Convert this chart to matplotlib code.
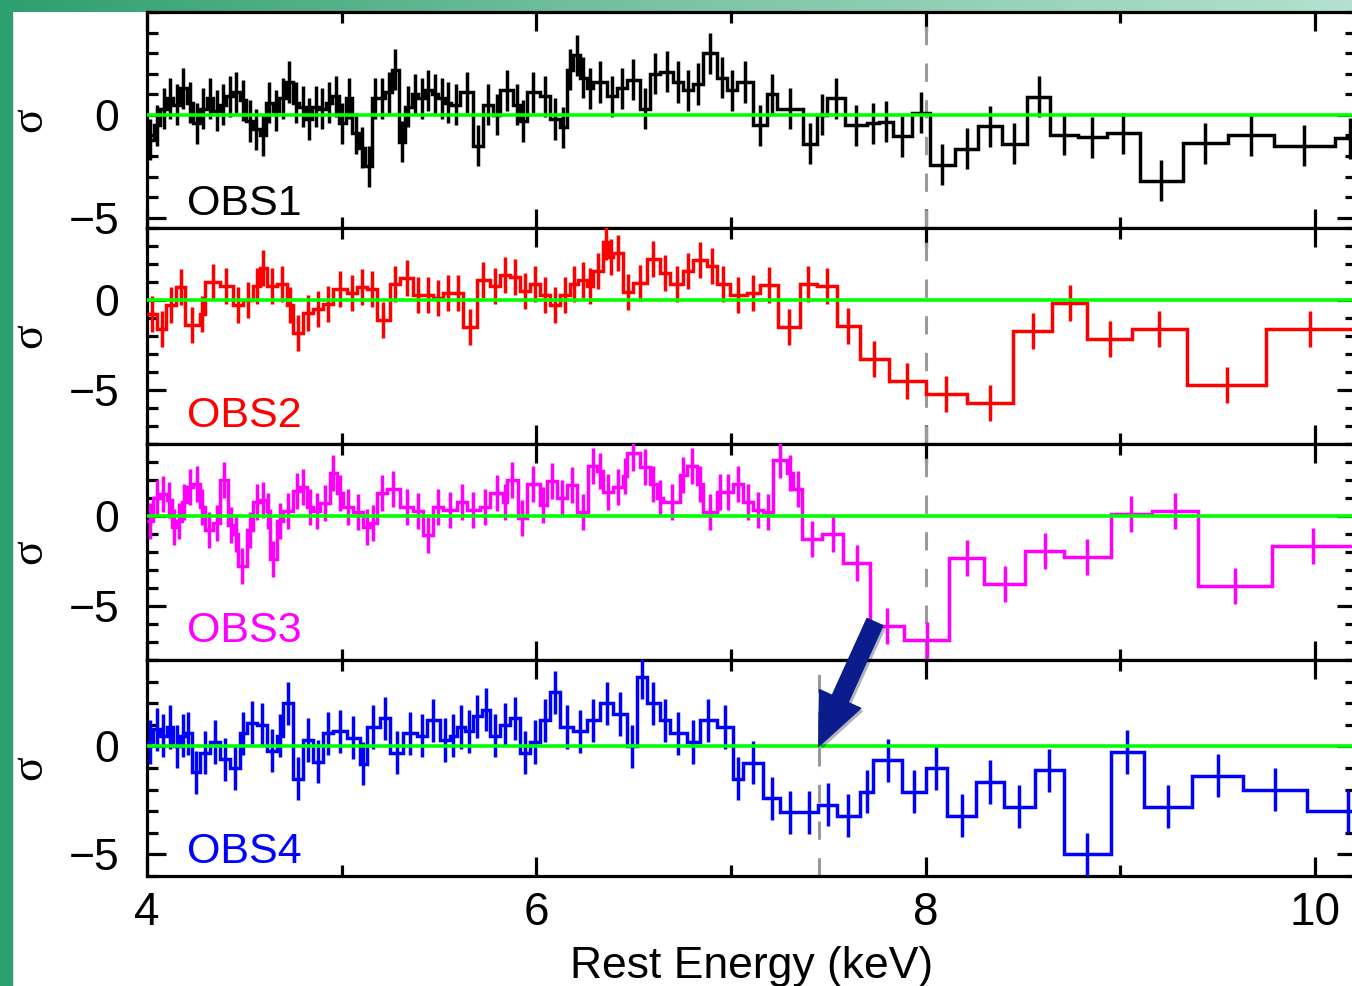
import matplotlib
matplotlib.use('Agg')
import matplotlib.pyplot as plt
import matplotlib.patheffects as pe
from matplotlib.ticker import FixedLocator, MultipleLocator
from matplotlib.colors import LinearSegmentedColormap
import numpy as np

plt.rcParams['font.family'] = ['Liberation Sans', 'DejaVu Sans']

# residuals in units of sigma, binned (edges in keV)
obs1_edges = [4.000, 4.034, 4.068, 4.102, 4.136, 4.170, 4.204, 4.238, 4.272, 4.306,
              4.340, 4.374, 4.408, 4.442, 4.476, 4.510, 4.544, 4.578, 4.612, 4.646,
              4.680, 4.714, 4.748, 4.782, 4.816, 4.850, 4.884, 4.918, 4.952, 4.986,
              5.020, 5.054, 5.088, 5.122, 5.156, 5.190, 5.224, 5.258, 5.292, 5.326,
              5.360, 5.394, 5.428, 5.462, 5.496, 5.530, 5.564,
              5.608, 5.676, 5.728, 5.779, 5.813, 5.882, 5.916, 5.950, 6.019, 6.070,
              6.121, 6.156, 6.190, 6.224, 6.258, 6.293, 6.361, 6.412, 6.464, 6.532,
              6.584, 6.635, 6.704, 6.755, 6.806, 6.858, 6.926, 6.977, 7.029, 7.114,
              7.183, 7.235, 7.372, 7.440, 7.491, 7.585, 7.697, 7.760,
              7.83, 7.93, 8.02, 8.15, 8.27, 8.39, 8.52, 8.64, 8.78, 8.93,
              9.10, 9.32, 9.55, 9.79, 10.10, 10.26]
obs1_sig = [-1.2, -0.5, 0.3, 0.8, 0.5, 1.3, 0.6, -0.4, 0.3, 0.8,
            0.2, 0.5, 0.9, 1.1, 0.7, -0.3, -0.7, -1.0, 0.6, 0.2,
            0.8, 1.6, 0.6, 0.4, -0.2, 0.4, 0.3, 0.6, 0.9, -0.4,
            0.8, -0.9, -1.6, -2.5, 0.8, 0.8, 1.1, 2.2, -1.3, 0.4,
            1.0, 0.8, 1.2, 1.0, 0.8, 0.6,
            0.5, 1.1, -1.5, 0.5, 0.0, 1.2, 0.5, -0.3, 1.1, 0.9,
            -0.2, -0.6, 2.2, 2.9, 1.8, 1.3, 1.6, 0.9, 1.3, 1.7,
            0.3, 2.0, 2.1, 1.6, 1.2, 1.5, 3.0, 1.8, 1.2, 1.6,
            -0.5, 1.0, 0.3, -1.4, 0.0, 0.8, -0.5, -0.4,
            -0.33, -1.05, 0.1, -2.43, -1.65, -0.56, -1.41, 0.89, -0.97, -1.08,
            -0.89, -3.2, -1.38, -1.0, -1.5, -1.13]

obs2_edges = [4.000, 4.050, 4.100, 4.150, 4.195, 4.270, 4.300, 4.375, 4.440, 4.495,
              4.546, 4.580, 4.615, 4.666, 4.717, 4.752, 4.803, 4.854, 4.906, 4.957,
              5.026, 5.077, 5.130, 5.180, 5.248, 5.300, 5.368, 5.419, 5.471, 5.522,
              5.573, 5.625, 5.693, 5.762, 5.813, 5.865, 5.916, 5.967, 6.019, 6.070,
              6.121, 6.173, 6.216, 6.258, 6.293, 6.344, 6.370, 6.395, 6.447, 6.498,
              6.567, 6.635, 6.686, 6.755, 6.806, 6.875, 6.926, 6.995, 7.080, 7.149,
              7.243, 7.354, 7.440, 7.543, 7.663, 7.810, 8.000, 8.210, 8.450, 8.650,
              8.830, 9.060, 9.340, 9.750, 10.20]
obs2_sig = [-0.8, -1.6, -0.3, 0.7, -1.4, -0.8, 1.0, 0.8, -0.3, 0.0,
            0.8, 1.8, 0.8, 0.9, -0.3, -1.85, -0.7, -0.5, -0.2, 0.6,
            0.4, 0.7, 0.6, -1.1, 0.9, 1.2, 0.3, 0.3, 0.1, 0.4,
            0.4, -1.5, 1.1, 0.8, 1.4, 1.3, 0.5, 0.9, 0.3, -0.3,
            0.3, 0.9, 1.1, 0.8, 1.6, 3.2, 2.4, 2.6, 0.46, 0.93,
            2.3, 1.5, 0.9, 1.6, 2.2, 1.9, 0.9, 0.3, 0.4, 0.83,
            -1.5, 0.9, 0.8, -1.45, -3.3, -4.5, -5.2, -5.7, -1.7, -0.15,
            -2.15, -1.6, -4.7, -1.6]

obs3_edges = [4.000, 4.033, 4.067, 4.101, 4.127, 4.152, 4.178, 4.204, 4.238, 4.272,
              4.298, 4.341, 4.375, 4.418, 4.443, 4.469, 4.512, 4.546, 4.580, 4.615,
              4.632, 4.666, 4.700, 4.752, 4.786, 4.820, 4.854, 4.889, 4.940, 4.974,
              5.009, 5.060, 5.111, 5.146, 5.180, 5.231, 5.300, 5.368, 5.419, 5.471,
              5.522, 5.591, 5.642, 5.710, 5.762, 5.830, 5.847, 5.907, 5.950, 6.019,
              6.053, 6.104, 6.156, 6.207, 6.267, 6.310, 6.344, 6.395, 6.447, 6.464,
              6.532, 6.584, 6.618, 6.652, 6.738, 6.772, 6.823, 6.858, 6.926, 6.960,
              7.012, 7.063, 7.115, 7.166, 7.217, 7.286, 7.320, 7.363, 7.466, 7.577,
              7.714, 7.890, 8.120, 8.300, 8.510, 8.710, 8.950, 9.160, 9.400, 9.780,
              10.20]
obs3_sig = [-0.3, 1.0, 1.2, 0.9, -0.6, -0.3, 0.8, 1.6, 1.8, 0.5,
            -0.8, -0.4, 2.0, -0.5, -1.0, -2.8, -0.8, 0.8, 0.9, 0.3,
            -2.4, -0.3, 0.3, 1.4, 1.6, 0.5, 0.3, 0.7, 2.4, 1.3,
            0.5, 0.2, -0.6, -0.4, 1.3, 1.5, 0.5, 0.3, -1.05, 0.5,
            0.33, 0.8, 0.33, 0.5, 1.26, 0.8, 2.0, -0.13, 1.8, 0.6,
            1.96, 1.0, 1.7, 0.24, 2.8, 2.5, 1.35, 1.6, 2.2, 3.5,
            2.7, 1.8, 1.0, 0.8, 2.3, 2.8, 1.8, 0.24, 1.35, 1.35,
            1.8, 0.8, 0.33, 0.24, 3.1, 2.4, 1.5, -1.3, -1.0, -2.6,
            -6.1, -6.9, -2.35, -3.8, -1.95, -2.3, 0.1, 0.28, -3.9, -1.67]

obs4_edges = [4.000, 4.033, 4.067, 4.101, 4.135, 4.170, 4.195, 4.229, 4.272, 4.324,
              4.375, 4.426, 4.478, 4.512, 4.563, 4.615, 4.666, 4.700, 4.752, 4.803,
              4.854, 4.906, 4.957, 5.026, 5.094, 5.128, 5.197, 5.248, 5.317, 5.385,
              5.437, 5.505, 5.556, 5.591, 5.633, 5.676, 5.719, 5.762, 5.813, 5.865,
              5.916, 5.967, 6.019, 6.070, 6.121, 6.190, 6.258, 6.327, 6.395, 6.464,
              6.515, 6.567, 6.635, 6.686, 6.772, 6.841, 6.926, 7.012, 7.063, 7.166,
              7.252, 7.354, 7.449, 7.543, 7.663, 7.731, 7.880, 8.000, 8.110, 8.260,
              8.400, 8.560, 8.710, 8.950, 9.120, 9.370, 9.630, 9.960, 10.38]
obs4_sig = [0.2, 0.8, 0.5, 0.9, 0.0, 0.5, 0.6, -1.2, -0.3, 0.2,
            -0.6, -1.0, 0.6, 1.1, 1.0, -0.2, 0.5, 2.0, -1.5, 0.3,
            -0.7, 0.6, 0.7, 0.4, -0.8, 0.9, 1.3, -0.3, 0.6, 0.5,
            1.2, 0.3, 0.5, 0.9, 0.7, 1.4, 1.7, 0.5, 1.0, 1.3,
            -0.3, 0.2, 1.2, 2.5, 0.9, 0.7, 1.2, 2.0, 1.5, 0.0,
            3.2, 2.0, 1.2, 0.6, 0.2, 1.2, 0.9, -1.5, -0.75, -2.4,
            -3.05, -3.05, -2.7, -3.2, -2.1, -0.65, -2.1, -1.0, -3.2, -1.65,
            -2.8, -1.1, -5.0, -0.26, -2.8, -1.35, -2.0, -3.0]

names = ['OBS1', 'OBS2', 'OBS3', 'OBS4']
colors = ['black', '#ff0000', '#ff00ff', '#0000ff']
ylims = [(-5.5, 5), (-8, 4), (-8, 4), (-6, 4)]
label_y = [-4.85, -7.05, -7.0, -5.42]
line_keV = [8.0, 8.0, 8.0, 7.45]

W, H = 1352, 986
fig = plt.figure(figsize=(W / 100, H / 100), dpi=100)

# green frame of the slide
fig.patches.append(plt.Rectangle((0, 0), 12 / W, 1, transform=fig.transFigure,
                                 color='#2e9f6f', zorder=0))
bar = fig.add_axes([0, 1 - 12 / H, 1, 12 / H])
grad = np.linspace(0, 1, 256).reshape(1, -1)
cm = LinearSegmentedColormap.from_list('frame', ['#2e9f6f', '#7cc4a6', '#b4e1cf'])
bar.imshow(grad, aspect='auto', cmap=cm, extent=(0, 1, 0, 1))
bar.axis('off')

left = 147 / W
width = 1209 / W
tops = [12, 228, 444, 660]
axes = []
all_edges = [obs1_edges, obs2_edges, obs3_edges, obs4_edges]
all_sig = [obs1_sig, obs2_sig, obs3_sig, obs4_sig]
for i in range(4):
    ax = fig.add_axes([left, 1 - (tops[i] + 216) / H, width, 216 / H])
    axes.append(ax)
    e = np.array(all_edges[i])
    s = np.array(all_sig[i])
    c = colors[i]
    ax.stairs(s, e, baseline=None, color=c, lw=2.5, zorder=3)
    centers = (e[:-1] + e[1:]) / 2
    ax.errorbar(centers, s, yerr=1, fmt='none', ecolor=c, elinewidth=2.5, capsize=0, zorder=3)
    ax.axhline(0, color='#00ff00', lw=2.6, zorder=4)
    ax.axvline(line_keV[i], color='#9a9a9a', lw=2.2, dashes=(6, 6), zorder=2)
    ax.set_xlim(4, 10.21)
    ax.set_ylim(*ylims[i])
    ax.xaxis.set_major_locator(FixedLocator([4, 6, 8, 10]))
    ax.xaxis.set_minor_locator(FixedLocator([5, 7, 9]))
    ax.yaxis.set_major_locator(FixedLocator([-5, 0]))
    ax.yaxis.set_minor_locator(MultipleLocator(1))
    ax.tick_params(which='both', direction='in', top=True, right=True, width=2.3)
    ax.tick_params(which='major', length=14)
    ax.tick_params(which='minor', length=8)
    ax.tick_params(axis='y', pad=20, labelsize=32)
    ax.tick_params(axis='x', pad=11, labelsize=33, labelbottom=(i == 3))
    for sp in ax.spines.values():
        sp.set_linewidth(2.3)
    ax.set_ylabel('σ', fontsize=33, family=['Liberation Serif', 'DejaVu Serif'],
                  va='center')
    ax.yaxis.set_label_coords(-0.0968, 0.5)
    ax.text(4.205, label_y[i], names[i], color=c, fontsize=31, va='baseline', ha='left')

axes[3].set_xlabel('Rest Energy (keV)', fontsize=32, labelpad=8)

# arrow pointing at the absorption feature in OBS4
arr = axes[3].annotate('', xy=(7.45, 0.0), xycoords='data',
                       xytext=(7.739, -5.89), textcoords=axes[2].transData,
                       annotation_clip=False,
                       arrowprops=dict(arrowstyle='simple,head_length=1.5,head_width=1.3,tail_width=0.5',
                                       mutation_scale=25, fc='#0b1d8c', ec='#0b1d8c',
                                       shrinkA=0, shrinkB=0))
arr.arrow_patch.set_path_effects([pe.SimplePatchShadow(offset=(2, -2), alpha=0.3), pe.Normal()])
arr.set_zorder(10)

fig.savefig('out.png', dpi=100)
